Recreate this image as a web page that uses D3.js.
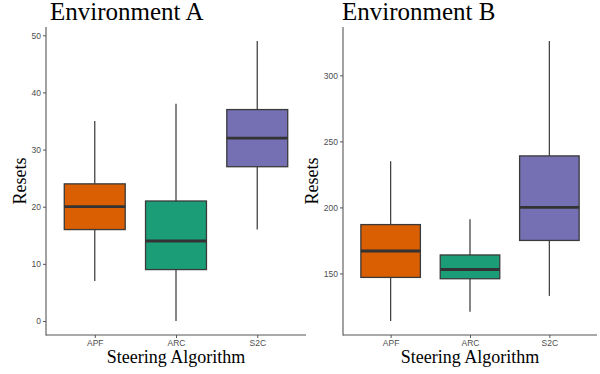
<!DOCTYPE html>
<html>
<head>
<meta charset="utf-8">
<script src="https://cdn.jsdelivr.net/npm/d3@7"></script>
<style>
  body { margin: 0; background: #fff; }
  .tick text { font-family: "Liberation Sans", Arial, sans-serif; font-size: 8.5px; fill: #4d4d4d; }
  .serif { font-family: "Liberation Serif", "Times New Roman", serif; fill: #000; }
</style>
</head>
<body>
<div id="chart"></div>
<script>
// Data
var categories = ["APF", "ARC", "S2C"];
var colors = ["#d95f02", "#1b9e77", "#7570b3"];

// Environment A
var lowA = [7, 0, 16];
var q1A = [16, 9, 27];
var medA = [20, 14, 32];
var q3A = [24, 21, 37];
var highA = [35, 38, 49];
var ticksA = [0, 10, 20, 30, 40, 50];

// Environment B
var lowB = [114, 121, 133];
var q1B = [147, 146, 175];
var medB = [167, 153, 200];
var q3B = [187, 164, 239];
var highB = [235, 191, 326];
var ticksB = [150, 200, 250, 300];

var svgWidth = 600;
var svgHeight = 374;

var svg = d3.select("#chart")
  .append("svg")
  .attr("width", svgWidth)
  .attr("height", svgHeight);

function buildRows(low, q1, med, q3, high) {
  return categories.map(function(c, i) {
    return { cat: c, low: low[i], q1: q1[i], med: med[i], q3: q3[i], high: high[i], color: colors[i] };
  });
}

var panels = [
  { title: "Environment A", rows: buildRows(lowA, q1A, medA, q3A, highA), ticks: ticksA,
    left: 46, right: 306, titleX: 50, ylabX: 26 },
  { title: "Environment B", rows: buildRows(lowB, q1B, medB, q3B, highB), ticks: ticksB,
    left: 343, right: 597, titleX: 342, ylabX: 318 }
];

var plotTop = 27, plotBottom = 335;

panels.forEach(function(p) {
  var g = svg.append("g");

  // y scale with ggplot-like 5% expansion
  var lo = d3.min(p.rows, d => d.low);
  var hi = d3.max(p.rows, d => d.high);
  var pad = (hi - lo) * 0.05;
  var y = d3.scaleLinear().domain([lo - pad, hi + pad]).range([plotBottom, plotTop]);

  var x = d3.scalePoint().domain(categories).range([p.left, p.right]).padding(0.6);
  var boxW = x.step() * 0.75;

  // axes
  var yAxis = g.append("g")
    .attr("transform", `translate(${p.left},0)`)
    .call(d3.axisLeft(y).tickValues(p.ticks).tickSize(3).tickPadding(2));
  yAxis.select(".domain").remove();
  yAxis.selectAll(".tick line").attr("stroke", "#555");

  var xAxis = g.append("g")
    .attr("transform", `translate(0,${plotBottom})`)
    .call(d3.axisBottom(x).tickSize(3).tickPadding(2));
  xAxis.select(".domain").remove();
  xAxis.selectAll(".tick line").attr("stroke", "#555");

  g.append("line")
    .attr("x1", p.left).attr("x2", p.left)
    .attr("y1", plotTop).attr("y2", plotBottom + 0.5)
    .attr("stroke", "#555").attr("stroke-width", 1.1);
  g.append("line")
    .attr("x1", p.left).attr("x2", p.right)
    .attr("y1", plotBottom).attr("y2", plotBottom)
    .attr("stroke", "#555").attr("stroke-width", 1.1);

  // boxes
  var boxes = g.append("g")
    .selectAll(".box")
    .data(p.rows)
    .enter()
    .append("g")
    .attr("class", "box");

  boxes.append("line")
    .attr("x1", d => x(d.cat)).attr("x2", d => x(d.cat))
    .attr("y1", d => y(d.high)).attr("y2", d => y(d.q3))
    .attr("stroke", "#444").attr("stroke-width", 1.3);
  boxes.append("line")
    .attr("x1", d => x(d.cat)).attr("x2", d => x(d.cat))
    .attr("y1", d => y(d.q1)).attr("y2", d => y(d.low))
    .attr("stroke", "#444").attr("stroke-width", 1.3);

  boxes.append("rect")
    .attr("x", d => x(d.cat) - boxW / 2)
    .attr("width", boxW)
    .attr("y", d => y(d.q3))
    .attr("height", d => y(d.q1) - y(d.q3))
    .attr("fill", d => d.color)
    .attr("stroke", "#3a3a3a")
    .attr("stroke-width", 1.3);

  boxes.append("line")
    .attr("x1", d => x(d.cat) - boxW / 2).attr("x2", d => x(d.cat) + boxW / 2)
    .attr("y1", d => y(d.med)).attr("y2", d => y(d.med))
    .attr("stroke", "#333").attr("stroke-width", 2.8);

  // labels
  g.append("text")
    .attr("class", "serif")
    .attr("x", p.titleX)
    .attr("y", 20)
    .attr("font-size", "25px")
    .text(p.title);

  g.append("text")
    .attr("class", "serif")
    .attr("x", (p.left + p.right) / 2)
    .attr("y", 363)
    .attr("text-anchor", "middle")
    .attr("font-size", "18px")
    .text("Steering Algorithm");

  g.append("text")
    .attr("class", "serif")
    .attr("transform", `translate(${p.ylabX},${(plotTop + plotBottom) / 2}) rotate(-90)`)
    .attr("text-anchor", "middle")
    .attr("font-size", "18px")
    .text("Resets");
});
</script>
</body>
</html>
